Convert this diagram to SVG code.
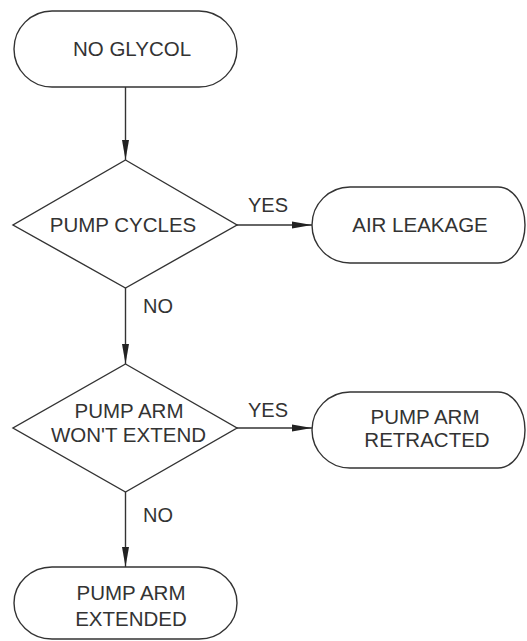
<svg xmlns="http://www.w3.org/2000/svg" width="527" height="641" viewBox="0 0 527 641">
<style>
.s{fill:#fff;stroke:#333;stroke-width:1.4}
.t{font-family:"Liberation Sans",Arial,sans-serif;font-size:20.5px;fill:#333;text-anchor:middle}
.l{font-family:"Liberation Sans",Arial,sans-serif;font-size:20px;fill:#333}
.c{stroke:#333;stroke-width:1.4;fill:none;marker-end:url(#ah)}
</style>
<defs>
<marker id="ah" viewBox="0 -4 20 8" refX="20" refY="0" markerWidth="20" markerHeight="8" orient="auto" markerUnits="userSpaceOnUse">
<path d="M0,-3.5 L20,0 L0,3.5 Z" fill="#222"/>
</marker>
</defs>
<rect width="527" height="641" fill="#fff"/>
<g id="connectors">
<line class="c" x1="125.5" y1="87" x2="125.5" y2="160"/>
<line class="c" x1="237" y1="225" x2="312" y2="225"/>
<line class="c" x1="125.5" y1="288" x2="125.5" y2="364"/>
<line class="c" x1="237" y1="428" x2="312" y2="428"/>
<line class="c" x1="125.5" y1="492" x2="125.5" y2="567"/>
<text class="l" x="248" y="212">YES</text>
<text class="l" x="143" y="313">NO</text>
<text class="l" x="248" y="417">YES</text>
<text class="l" x="143" y="522">NO</text>
</g>
<g id="no-glycol">
<rect class="s" x="14" y="11" width="223" height="76" rx="38" ry="38"/>
<text class="t" x="132" y="56">NO GLYCOL</text>
</g>
<g id="pump-cycles">
<path class="s" d="M125.5,160 L237,225 L125.5,288 L13,225 Z"/>
<text class="t" x="123" y="232">PUMP CYCLES</text>
</g>
<g id="air-leakage">
<path class="s" d="M350,187 H498 A27,38 0 0 1 498,263 H350 A38,38 0 0 1 350,187 Z"/>
<text class="t" x="420" y="232">AIR LEAKAGE</text>
</g>
<g id="pump-arm-wont-extend">
<path class="s" d="M125.5,364 L237,428 L125.5,492 L13,428 Z"/>
<text class="t" x="129" y="418">PUMP ARM</text>
<text class="t" x="128.5" y="442">WON'T EXTEND</text>
</g>
<g id="pump-arm-retracted">
<path class="s" d="M350,392 H498 A27,38 0 0 1 498,468 H350 A38,38 0 0 1 350,392 Z"/>
<text class="t" x="425" y="424">PUMP ARM</text>
<text class="t" x="427" y="447">RETRACTED</text>
</g>
<g id="pump-arm-extended">
<rect class="s" x="14" y="567" width="223" height="72" rx="38" ry="36"/>
<text class="t" x="131" y="600">PUMP ARM</text>
<text class="t" x="131" y="626">EXTENDED</text>
</g>
</svg>
